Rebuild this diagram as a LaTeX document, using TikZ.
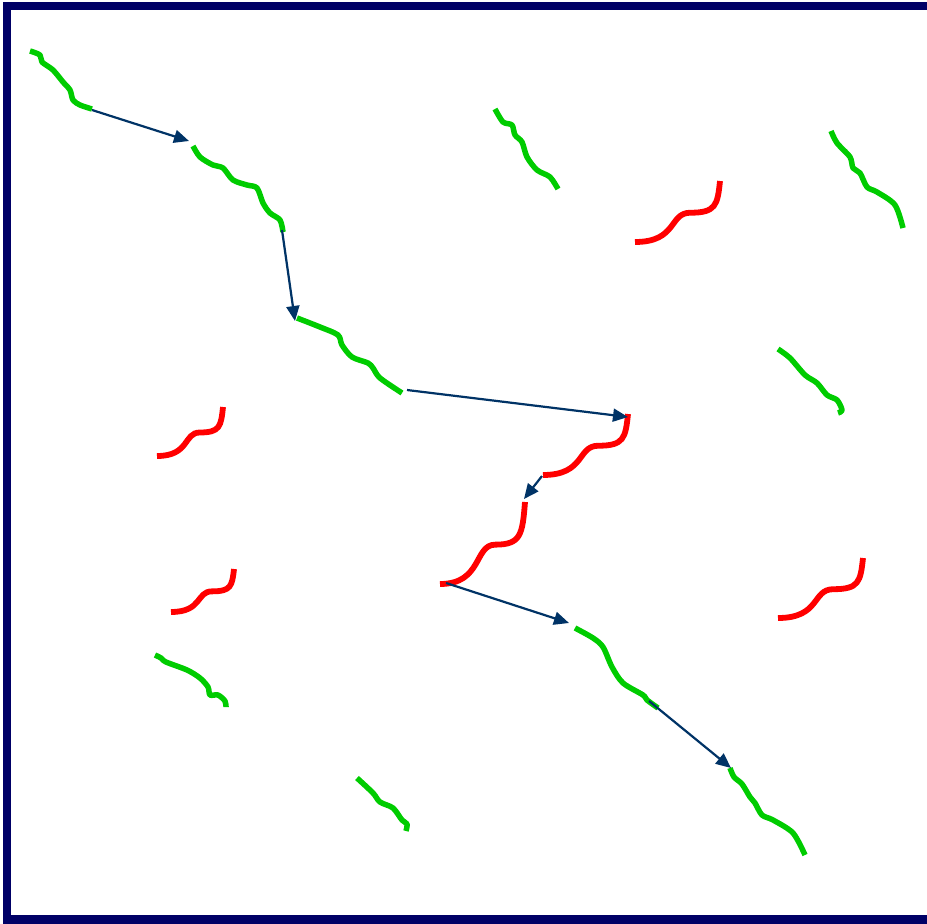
\documentclass[tikz,border=0pt]{standalone}
\usetikzlibrary{arrows.meta}
\definecolor{framenavy}{RGB}{0,0,102}
\definecolor{arrownavy}{RGB}{0,51,102}
\definecolor{wormgreen}{RGB}{0,204,0}
\definecolor{wormred}{RGB}{255,0,0}
\tikzset{
  greenline/.style={draw=wormgreen, line width=5.5pt, line join=round},
  redline/.style={draw=wormred, line width=5.8pt},
  link/.style={draw=arrownavy, line width=2.2pt, -{Triangle[length=15pt,width=13pt]}},
  framebox/.style={draw=framenavy, line width=8.5pt}
}
\newcommand\redcurve[4]{%
  \begin{scope}[shift={(#1,#2)},xscale=#3,yscale=#4]
    \draw[redline] (0,0) .. controls (0.5,0) and (0.4,-0.48) .. (0.65,-0.48)
      .. controls (0.95,-0.48) and (0.97,-0.6) .. (1,-1);
  \end{scope}}
\begin{document}
\begin{tikzpicture}[x=1pt,y=-1pt]
\useasboundingbox (0,0) rectangle (927,924);
% frame (right side runs off the picture)
\draw[framebox] (945,6) -- (7,6) -- (7,919.5) -- (945,919.5);

% green worms
\draw[greenline] plot[smooth,tension=0.5] coordinates {(30,51) (40,55) (42,62) (53,70) (63,82) (70,90) (73,100) (80,105) (92,109)};
\draw[greenline] plot[smooth,tension=0.5] coordinates {(193,146) (200,157) (213,165) (223,168) (233,180) (247,185) (257,188) (263,203) (270,213) (280,220) (283,232)};
\draw[greenline] plot[smooth,tension=0.5] coordinates {(297,318) (320,327) (338,335) (342,345) (352,357) (368,363) (373,368) (380,378) (402,393)};
\draw[greenline] plot[smooth,tension=0.5] coordinates {(575,628) (593,638) (603,647) (612,667) (623,683) (643,695) (647,700) (658,708)};
\draw[greenline] plot[smooth,tension=0.5] coordinates {(730,768) (734,777) (742,784) (750,797) (755,803) (762,815) (773,820) (793,833) (805,855)};
\draw[greenline] plot[smooth,tension=0.5] coordinates {(495,109) (503,122) (512,125) (515,135) (522,142) (527,157) (537,170) (550,177) (558,189)};
\draw[greenline] plot[smooth,tension=0.5] coordinates {(831,131) (837,143) (850,157) (853,168) (860,173) (867,187) (877,192) (895,205) (903,228)};
\draw[greenline] plot[smooth,tension=0.5] coordinates {(778,349) (790,358) (805,375) (817,383) (827,395) (837,400) (842,410) (838,413)};
\draw[greenline] plot[smooth,tension=0.5] coordinates {(155,655) (161,658) (166,662) (187,670) (200,678) (208,687) (210,695) (218,695) (225,701) (226,707)};
\draw[greenline] plot[smooth,tension=0.5] coordinates {(357,778) (373,793) (380,802) (393,808) (402,820) (407,824) (406,831)};

% red worms
\redcurve{543}{475}{85}{61}
\redcurve{440}{584}{85}{82}
\redcurve{635}{242}{85}{61}
\redcurve{157}{456}{66}{49}
\redcurve{171}{612}{63}{43}
\redcurve{778}{618}{85}{60}

% connector end points
\coordinate (a1s) at (92,110);  \coordinate (a1e) at (189,141);
\coordinate (a2s) at (282,230); \coordinate (a2e) at (295,321);
\coordinate (a3s) at (407,390); \coordinate (a3e) at (628,417);
\coordinate (a4s) at (542,476); \coordinate (a4e) at (524,499);
\coordinate (a5s) at (446,583); \coordinate (a5e) at (569,623);
\coordinate (a6s) at (649,701); \coordinate (a6e) at (731,768);

\draw[link] (a1s) -- (a1e);
\draw[link] (a2s) -- (a2e);
\draw[link] (a3s) -- (a3e);
\draw[link] (a4s) -- (a4e);
\draw[link] (a5s) -- (a5e);
\draw[link] (a6s) -- (a6e);
\end{tikzpicture}
\end{document}
